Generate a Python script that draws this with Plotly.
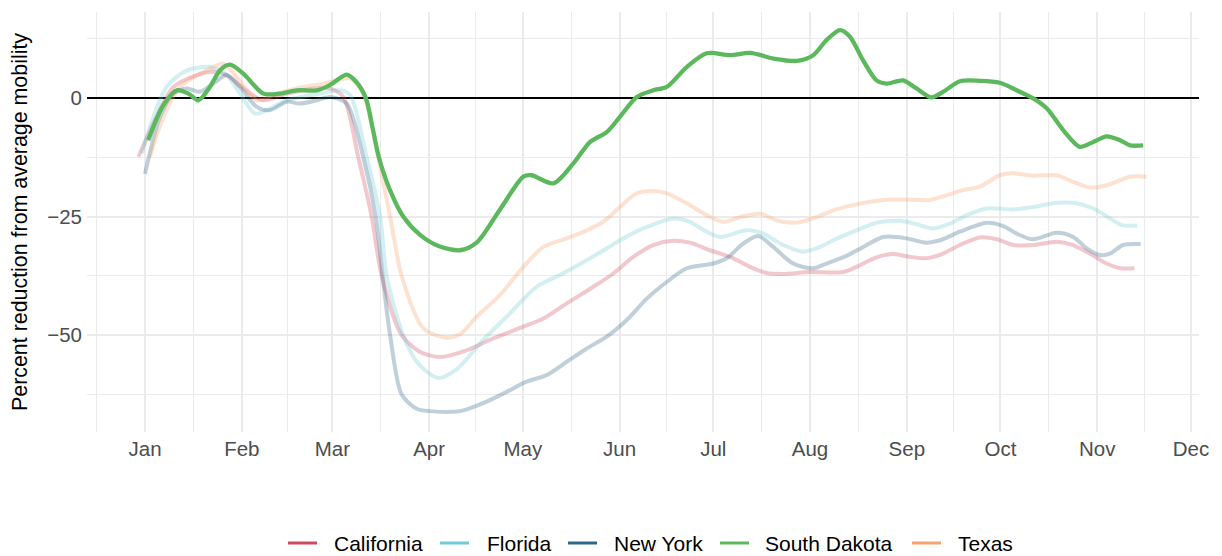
import plotly.graph_objects as go
import pandas as pd

# ---------------- data (days since 2020-01-01, percent) ----------------
states = ["California", "Florida", "New York", "South Dakota", "Texas"]

ca_day = [-2.1, 3.7, 9.1, 16.6, 21.9, 26.2, 31.5, 37.9, 45.4, 53.9, 59.2, 63.5, 68.3, 72.6, 75.8,
          82.2, 88, 94.5, 103, 111.5, 121.2, 127.6, 135.1, 143.6, 150, 156.4, 162.8, 169.2, 174.5,
          180.9, 187.4, 193.8, 199.1, 204.4, 213, 223.6, 227.9, 234.3, 239.7, 245, 250.3, 254.6,
          261, 267.4, 272.8, 278.1, 284.5, 292, 297.3, 302.6, 308, 312.3, 316.9]
ca_val = [-12.4, -4.0, 2.3, 4.8, 5.5, 4.8, 2.0, -0.5, 0.9, 2.0, 2.0, 0.2, -12.5, -25, -37.5,
          -50, -53.5, -54.6, -53.2, -50.7, -48.2, -46.5, -43.3, -39.8, -37.0, -33.5, -31.0, -30.1, -30.5,
          -32.1, -33.5, -35.6, -36.9, -37.1, -36.7, -36.7, -35.6, -33.6, -32.9, -33.5, -33.8, -33.1,
          -31.0, -29.4, -29.8, -31.0, -31.0, -30.3, -31.0, -32.8, -34.9, -35.9, -35.9]

fl_day = [-1.1, 6.9, 13.4, 20.8, 26.2, 30.4, 35.2, 39, 45.4, 56, 62.5, 65.7, 71, 75.3, 77.4,
          82.7, 87.5, 93.9, 99.8, 108.3, 116.9, 125.4, 132.9, 141.5, 147.9, 153.2, 160.7, 169.2,
          174.5, 179.9, 184.2, 192.7, 198, 204.4, 210.8, 216.2, 220.4, 227.9, 234.3, 241.8, 247.1,
          252.5, 257.8, 263.2, 269.6, 278.1, 284.5, 292, 298.4, 303.7, 309.1, 312.8, 317.8]
fl_val = [-11.7, 2.3, 5.8, 6.5, 4.8, 0.9, -3.3, -2.6, -0.5, 0.9, 1.6, 0.6, -12.5, -25, -37.5,
          -50, -56, -59.0, -57.2, -51.0, -45.4, -39.8, -37.3, -34.2, -31.7, -29.6, -27.2, -25.4,
          -26.1, -28.2, -29.3, -27.9, -28.6, -31.0, -32.4, -31.4, -30.0, -27.9, -26.3, -25.9, -26.6,
          -27.5, -26.5, -24.7, -23.3, -23.5, -23.0, -22.1, -22.2, -23.3, -25.4, -26.8, -26.9]

ny_day = [0, 4.8, 9.1, 13.4, 17.6, 21.9, 26.2, 30.4, 35.8, 40, 45.4, 49.6, 55, 59.2, 64.6,
          69.9, 73.9, 76.1, 78.5, 82.2, 87, 91.3, 100.9, 107.3, 114.8, 122.2, 128.7, 135.1, 141.5,
          147.9, 154.3, 160.7, 167.1, 173.5, 182, 186.3, 191.6, 196.4, 201.2, 207.6, 214, 218.3,
          224.7, 230, 236.5, 243.9, 250.3, 254.6, 261, 269.6, 274.9, 279.2, 284.5, 292, 297.3,
          301.6, 305.9, 309.1, 313.3, 318.9]
ny_val = [-16, -4.0, 0.9, 2.0, 1.3, 3.0, 4.8, 2.3, -1.9, -2.6, -0.8, -1.2, -0.5, 0.2, -1.2,
          -12.5, -25, -37.5, -50, -62.5, -65.5, -66.0, -66.0, -64.6, -62.3, -59.8, -58.4, -55.6, -52.8,
          -50.3, -46.8, -42.3, -38.8, -35.9, -34.9, -33.8, -30.7, -29.1, -31.4, -34.9, -35.9, -34.9,
          -33.3, -31.4, -29.3, -29.6, -30.5, -30.0, -28.2, -26.3, -27.0, -28.6, -29.8, -28.4, -29.3,
          -31.7, -33.1, -32.8, -31.0, -30.8]

sd_day = [1, 5.9, 10.2, 13.9, 17.1, 20.8, 24, 27.2, 31.5, 37.9, 43.2, 48.6, 55, 59.2, 64.6,
          67.5, 70.7, 72.8, 74.9, 78.5, 82.7, 88, 94, 100.9, 106.2, 113.7, 121.2, 123.8, 130.8,
          137.2, 142.5, 147.9, 152.1, 157.5, 162.8, 167.1, 173.5, 179.9, 187.4, 193.8, 201.3, 208.8,
          214, 218.3, 222.6, 225.8, 230, 234.3, 237.5, 242.8, 247.1, 251.9, 255.7, 261, 267.4, 273.8,
          279.2, 284.5, 288.8, 294.1, 299.4, 303.7, 308, 312.3, 315.5, 319.7]
sd_val = [-8.9, -1.5, 1.6, 0.9, -0.5, 2.3, 5.8, 7.0, 5.1, 0.9, 0.9, 1.6, 1.6, 2.7, 4.9,
          3.5, 0.0, -6.0, -12.5, -19.5, -25, -28.8, -31.2, -32.1, -30.5, -23.5, -16.6, -16.3, -18,
          -13.8, -9.3, -7.2, -4.0, 0.2, 1.6, 2.3, 6.5, 9.4, 9.0, 9.5, 8.3, 7.8,
          9.0, 12.2, 14.3, 12.9, 7.9, 3.7, 3.0, 3.7, 2.0, 0.1, 1.3, 3.5, 3.6, 3.2,
          1.6, -0.1, -2.2, -6.8, -10.3, -9.3, -8.1, -8.9, -10.0, -10.0]

tx_day = [1.6, 5.9, 11.2, 19.8, 25.1, 29.4, 35.8, 42.2, 50.7, 57.1, 61.4, 65.7, 69.9, 74.7, 78.5,
          82.2, 89.1, 96, 100.9, 106.2, 113.7, 121.2, 127.6, 135.1, 141.5, 146.8, 152.1, 157.5,
          162.8, 167.1, 173.5, 179.9, 185.2, 190.6, 197, 202.3, 208.7, 215.1, 220.4, 226.8, 236.5,
          243.9, 251.4, 256.8, 262.1, 267.4, 273.8, 278.1, 284.5, 292, 297.3, 302.6, 308, 315.5, 320.8]
tx_val = [-12.4, -4, 2.3, 5.8, 7.2, 4.4, -0.5, 0.9, 2.3, 3.0, 3.7, 4.1, 0.9, -12.5, -25,
          -37.5, -48.5, -50.5, -49.8, -46.1, -41.5, -35.6, -31.4, -29.6, -27.9, -26.1, -23.0, -20.1,
          -19.6, -20.1, -22.2, -24.7, -26.1, -25.1, -24.4, -25.8, -26.3, -25.1, -23.7, -22.6, -21.5,
          -21.4, -21.5, -20.5, -19.4, -18.7, -16.3, -15.9, -16.4, -16.3, -17.7, -18.9, -18.4, -16.6, -16.6]

month_labels = ["Jan", "Feb", "Mar", "Apr", "May", "Jun", "Jul", "Aug", "Sep", "Oct", "Nov", "Dec"]
y_ticks = [-50, -25, 0]
y_ticktext = ["\u221250", "\u221225", "0"]
y_title = "Percent reduction from average mobility"

# ---------------- styling ----------------
colors = {"California": "#cf4b5b", "Florida": "#6fcbd7", "New York": "#2f6689",
          "South Dakota": "#5cb85c", "Texas": "#f9a26c"}
faded_opacity = 0.3
BASE = pd.Timestamp("2020-01-01")

W, H = 1222, 556
M_L, M_R, M_T, M_B = 87, 23, 12, 124
PLOT_W = W - M_L - M_R
PLOT_H = H - M_T - M_B

# manual legend layout (pixel positions of key start / label start)
legend_key_px = [288, 440, 568, 720, 912]
legend_text_px = [332, 485, 612, 763, 956]
legend_key_len = 29
legend_center_py = 543


def to_dates(days):
    return [BASE + pd.Timedelta(days=d) for d in days]


def px_to_paper_x(px):
    return (px - M_L) / PLOT_W


def py_to_paper_y(py):
    return (H - M_B - py) / PLOT_H


series = {
    "California": (ca_day, ca_val),
    "Florida": (fl_day, fl_val),
    "New York": (ny_day, ny_val),
    "South Dakota": (sd_day, sd_val),
    "Texas": (tx_day, tx_val),
}

fig = go.Figure()

# faded states first, highlighted state on top
draw_order = ["California", "Florida", "New York", "Texas", "South Dakota"]
for st in draw_order:
    d, v = series[st]
    hl = st == "South Dakota"
    fig.add_trace(go.Scatter(
        x=to_dates(d), y=v, mode="lines", name=st, showlegend=False,
        line=dict(color=colors[st], width=4.3 if hl else 4, shape="spline", smoothing=0.8),
        opacity=1.0 if hl else faded_opacity,
        hoverinfo="skip",
    ))

# legend drawn as keys + labels
ly = py_to_paper_y(legend_center_py)
for st, kx, tx in zip(states, legend_key_px, legend_text_px):
    fig.add_shape(type="line", xref="paper", yref="paper",
                  x0=px_to_paper_x(kx), x1=px_to_paper_x(kx + legend_key_len), y0=ly, y1=ly,
                  line=dict(color=colors[st], width=3))
    fig.add_annotation(text=st, xref="paper", yref="paper", x=px_to_paper_x(tx), y=ly,
                       xanchor="left", yanchor="middle", showarrow=False,
                       font=dict(size=21, color="black"))

month_starts = pd.date_range("2020-01-01", periods=12, freq="MS")
edges = [pd.Timestamp("2019-12-01")] + list(month_starts)
minor_vals = [edges[i] + (edges[i + 1] - edges[i]) / 2 for i in range(len(edges) - 1)]

x_lo = pd.Timestamp("2019-12-13 10:00")
x_hi = pd.Timestamp("2020-12-03 14:00")

grid_c = "#ebebeb"
fig.update_layout(
    width=W, height=H,
    margin=dict(l=M_L, r=M_R, t=M_T, b=M_B),
    paper_bgcolor="white", plot_bgcolor="white",
    font=dict(family="Liberation Sans, Arial, sans-serif", color="black", size=21),
    showlegend=False,
    xaxis=dict(
        type="date", range=[x_lo, x_hi], automargin=False,
        tickvals=list(month_starts), ticktext=month_labels,
        showgrid=True, gridcolor=grid_c, gridwidth=1.8,
        minor=dict(tickvals=minor_vals, showgrid=True, gridcolor=grid_c, gridwidth=1.1),
        zeroline=False, showline=False, ticks="",
        tickfont=dict(size=20.5, color="#4d4d4d"),
        ticklabelstandoff=2,
    ),
    yaxis=dict(
        range=[-70.4, 18.1],
        tickvals=y_ticks, ticktext=y_ticktext,
        showgrid=True, gridcolor=grid_c, gridwidth=1.8,
        minor=dict(tickvals=[-62.5, -37.5, -12.5, 12.5], showgrid=True, gridcolor=grid_c, gridwidth=1.1),
        zeroline=True, zerolinecolor="black", zerolinewidth=2,
        showline=False, ticks="",
        tickfont=dict(size=20.5, color="#4d4d4d"),
        ticklabelstandoff=4,
        title=dict(text=y_title, font=dict(size=21.4, color="black"), standoff=13),
    ),
)

fig.write_html("out.html", config={"displayModeBar": False},
               post_script="document.body.style.margin='0';")
